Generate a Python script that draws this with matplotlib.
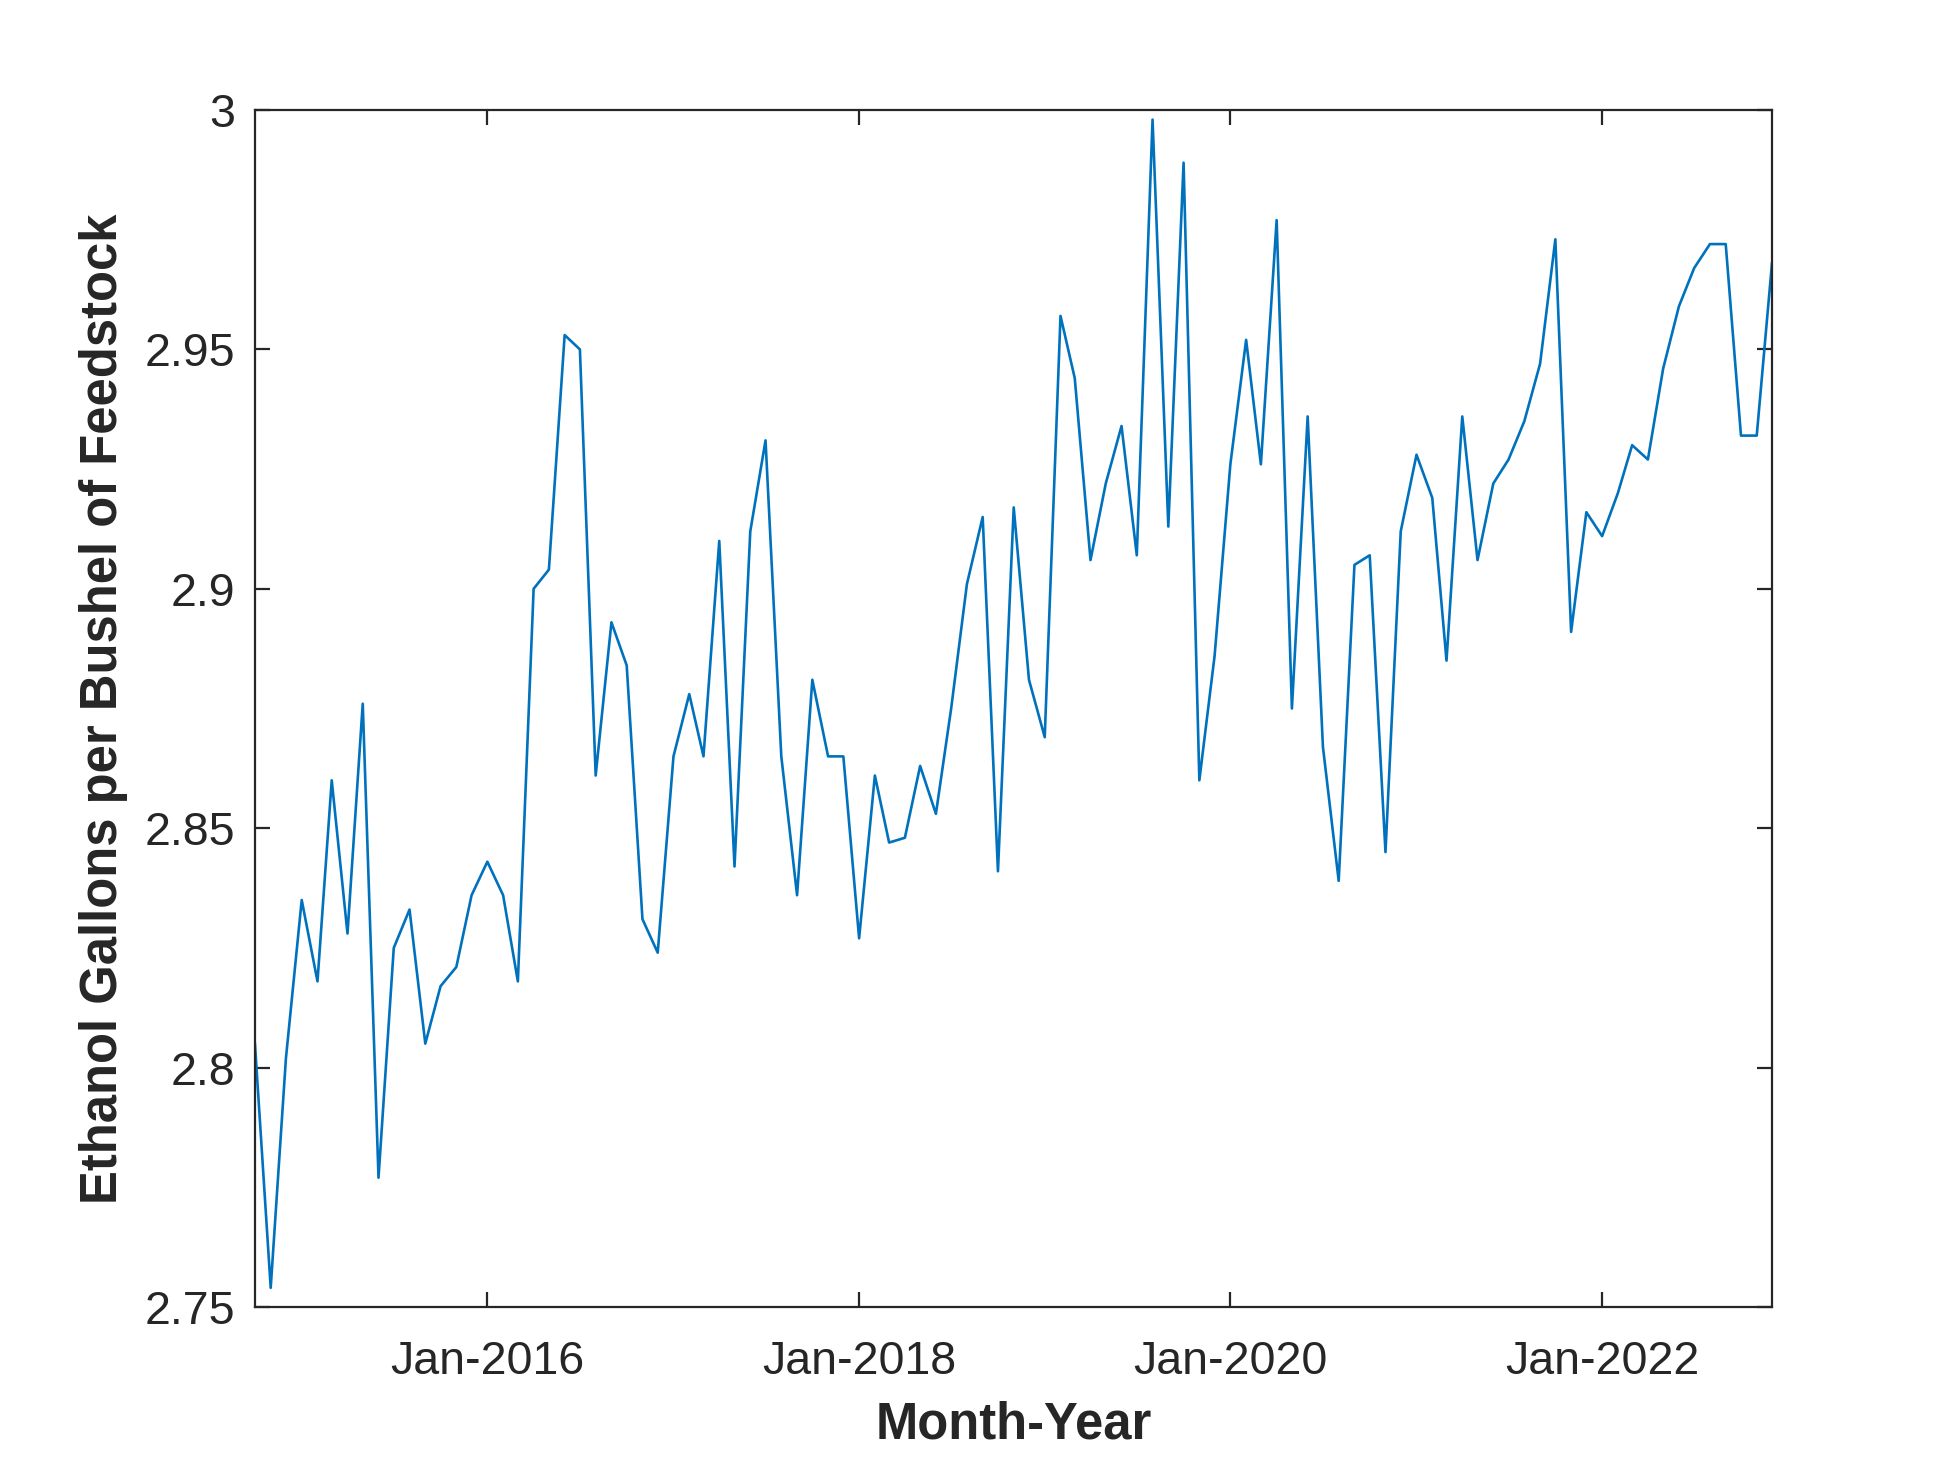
import matplotlib
matplotlib.use("Agg")
from matplotlib import pyplot as plt
import matplotlib.dates as mdates
import pandas as pd

# monthly yield, Oct 2014 .. Dec 2022
start_month = "2014-10-01"
gallons_per_bushel = [
    2.805, 2.754, 2.802, 2.835, 2.818, 2.860, 2.828, 2.876, 2.777, 2.825,
    2.833, 2.805, 2.817, 2.821, 2.836, 2.843, 2.836, 2.818, 2.900, 2.904,
    2.953, 2.950, 2.861, 2.893, 2.884, 2.831, 2.824, 2.865, 2.878, 2.865,
    2.910, 2.842, 2.912, 2.931, 2.865, 2.836, 2.881, 2.865, 2.865, 2.827,
    2.861, 2.847, 2.848, 2.863, 2.853, 2.875, 2.901, 2.915, 2.841, 2.917,
    2.881, 2.869, 2.957, 2.944, 2.906, 2.922, 2.934, 2.907, 2.998, 2.913,
    2.989, 2.860, 2.886, 2.926, 2.952, 2.926, 2.977, 2.875, 2.936, 2.867,
    2.839, 2.905, 2.907, 2.845, 2.912, 2.928, 2.919, 2.885, 2.936, 2.906,
    2.922, 2.927, 2.935, 2.947, 2.973, 2.891, 2.916, 2.911, 2.920, 2.930,
    2.927, 2.946, 2.959, 2.967, 2.972, 2.972, 2.932, 2.932, 2.968,
]
months = pd.date_range(start_month, periods=len(gallons_per_bushel), freq="MS")

x_ticks = ["2016-01-01", "2018-01-01", "2020-01-01", "2022-01-01"]
y_ticks = [2.75, 2.8, 2.85, 2.9, 2.95, 3.0]
y_tick_labels = ["2.75", "2.8", "2.85", "2.9", "2.95", "3"]

plt.rcParams["font.family"] = ["Liberation Sans", "DejaVu Sans"]
axis_color = "#262626"


def main():
    fig = plt.figure(figsize=(19.58, 14.69), dpi=100)
    ax = fig.add_axes([0.1302, 0.1103, 0.905 - 0.1302, 0.9251 - 0.1103])

    ax.plot(months, gallons_per_bushel, color="#0072BD", linewidth=1.9)

    ax.set_xlim(months[0], months[-1])
    ax.set_ylim(2.75, 3.0)
    ax.set_xticks(pd.to_datetime(x_ticks))
    ax.xaxis.set_major_formatter(mdates.DateFormatter("%b-%Y"))
    ax.set_yticks(y_ticks)
    ax.set_yticklabels(y_tick_labels)

    # MATLAB-ish box with inward ticks on all sides
    for side in ax.spines.values():
        side.set_color(axis_color)
        side.set_linewidth(1.6)
    ax.tick_params(axis="both", direction="in", length=11, width=1.6,
                   colors=axis_color, labelsize=33.5, top=True, right=True)
    ax.tick_params(axis="x", pad=24)
    ax.tick_params(axis="y", pad=14)

    ax.set_xlabel("Month-Year", fontsize=36.5, fontweight="bold",
                  color=axis_color, labelpad=12)
    ax.set_ylabel("Ethanol Gallons per Bushel of Feedstock", fontsize=36.5,
                  fontweight="bold", color=axis_color, labelpad=12)

    fig.savefig("out.png", dpi=100)


main()
